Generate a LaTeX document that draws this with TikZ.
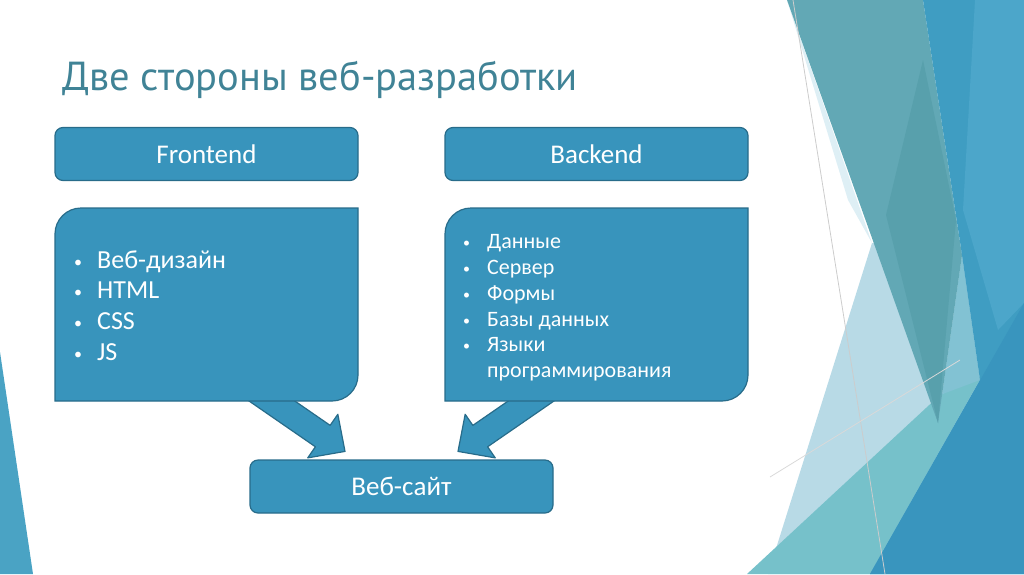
\documentclass[tikz,border=0pt]{standalone}
\usepackage{fontspec}
\setmainfont{Carlito}
\newfontfamily\titlefont{PT Sans}
\usetikzlibrary{positioning,calc}
\definecolor{boxblue}{RGB}{56,148,188}
\definecolor{boxline}{RGB}{40,108,138}
\definecolor{titleteal}{RGB}{64,131,150}
\definecolor{facetgray}{RGB}{98,168,181}
\definecolor{facetdark}{RGB}{88,160,172}
\definecolor{facetblue}{RGB}{63,157,194}
\definecolor{facetsky}{RGB}{76,166,202}
\definecolor{facetdeep}{RGB}{57,149,190}
\definecolor{facetpale}{RGB}{184,218,230}
\definecolor{facetmist}{RGB}{222,239,245}
\definecolor{facetband}{RGB}{130,194,211}
\definecolor{facetaqua}{RGB}{118,193,202}
\definecolor{facetside}{RGB}{74,163,196}
\newcommand{\listdot}[2]{\makebox[#1][l]{\raisebox{0.04em}{\fontsize{#2}{#2}\selectfont •}}}
\tikzset{
  base/.style = {
    rectangle, draw=boxline, line width=1.2pt, fill=boxblue,
    text=white
  },
  header/.style = {
    base, rounded corners=8pt, minimum width=303pt,
    minimum height=53pt, font=\fontsize{27}{32}\selectfont
  },
  panel/.style = {draw=boxline, line width=1.2pt, fill=boxblue},
  blockarrow/.style = {panel, line join=round},
  itemlist/.style = {anchor=west, text=white, inner sep=0pt},
}

\begin{document}
\begin{tikzpicture}[x=1pt, y=-1pt]
  \useasboundingbox (0,0) rectangle (1024,574);
  % facet background
  \fill[facetpale] (872,243) -- (768,574) -- (1024,574) -- (1024,250) -- cycle;
  \fill[facetmist] (787,0) -- (848,200) -- (872,243) -- cycle;
  \fill[facetaqua] (747,574) -- (940,395) -- (982,376) -- (870,574) -- cycle;
  \fill[facetband] (962,255) -- (980,380) -- (940,395) -- (938,423) -- cycle;
  \fill[facetgray] (787,0) -- (923,0) -- (962,255) -- (938,423) -- cycle;
  \fill[facetdark] (923,60) -- (886,215) -- (938,423) -- (956,220) -- cycle;
  \fill[facetblue] (923,0) -- (1024,0) -- (1024,574) -- (870,574) -- (980,380) -- (962,255) -- cycle;
  \fill[facetsky] (975,0) -- (1024,0) -- (1024,303) -- (998,330) -- (963,210) -- cycle;
  \fill[facetdeep] (870,574) -- (1024,303) -- (1024,574) -- cycle;
  \draw[black!20, line width=0.8pt] (793,0) -- (885,574);
  \draw[black!15, line width=0.8pt] (770,477) -- (960,360);
  \fill[facetside] (0,352) -- (33,574) -- (0,574) -- cycle;

  \node (title) [anchor=base west, text=titleteal, inner sep=0pt,
    font=\titlefont\fontsize{40.5}{46}\selectfont] at (62,90) {Две стороны веб-разработки};

  \node (front) [header] at (206.5,154) {Frontend};
  \node (back) [header, right of=front, node distance=390pt] {Backend};
  \node (site) [header] at (401.5,486.5) {Веб-сайт};

  \coordinate (ltip) at ($(site.north)+(-56.5,-8)$);
  \coordinate (rtip) at ($(site.north)+(56.5,-8)$);
  \begin{scope}[shift={(ltip)}, rotate=-34.6]
    \draw[blockarrow] (0,0) -- (-27,26.5) -- (-27,13) -- (-127,13)
      -- (-127,-13) -- (-27,-13) -- (-27,-26.5) -- cycle;
  \end{scope}
  \begin{scope}[shift={(rtip)}, rotate=214.6]
    \draw[blockarrow] (0,0) -- (-27,26.5) -- (-27,13) -- (-127,13)
      -- (-127,-13) -- (-27,-13) -- (-27,-26.5) -- cycle;
  \end{scope}

  \draw[panel] (55,401) -- (55,234) arc[start angle=180, end angle=270, radius=26]
    -- (358,208) -- (358,375) arc[start angle=0, end angle=90, radius=26] -- cycle;
  \draw[panel] (445,401) -- (445,234) arc[start angle=180, end angle=270, radius=26]
    -- (748,208) -- (748,375) arc[start angle=0, end angle=90, radius=26] -- cycle;

  \node (frontlist) [itemlist, font=\fontsize{26}{30.7}\selectfont] at (74,308) {%
    \begin{tabular}{@{}l@{}l@{}}
      \listdot{23pt}{16} & Веб-дизайн\\
      \listdot{23pt}{16} & HTML\\
      \listdot{23pt}{16} & CSS\\
      \listdot{23pt}{16} & JS
    \end{tabular}};
  \node (backlist) [itemlist, font=\fontsize{22}{25.8}\selectfont] at (463,308) {%
    \begin{tabular}{@{}l@{}l@{}}
      \listdot{24pt}{14} & Данные\\
      \listdot{24pt}{14} & Сервер\\
      \listdot{24pt}{14} & Формы\\
      \listdot{24pt}{14} & Базы данных\\
      \listdot{24pt}{14} & Языки\\
        & программирования
    \end{tabular}};
\end{tikzpicture}
\end{document}
